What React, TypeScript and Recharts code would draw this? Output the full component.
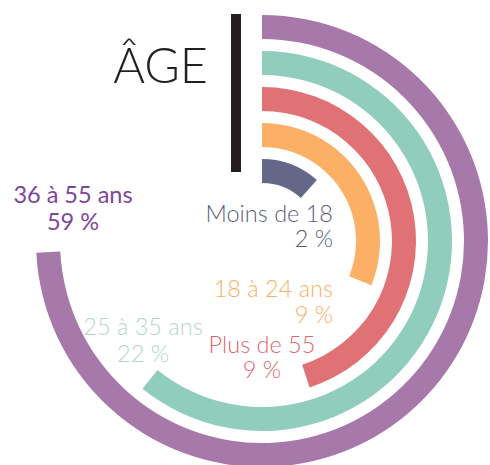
import { PolarAngleAxis, PolarRadiusAxis, RadialBar, RadialBarChart, Cell } from 'recharts';

// inner ring first
const groups = ['Moins de 18', '18 à 24 ans', 'Plus de 55', '25 à 35 ans', '36 à 55 ans'];
const shares = ['2 %', '9 %', '9 %', '22 %', '59 %'];
// sweep of each ring in degrees, as drawn in the infographic
const sweeps = [42, 112, 162, 219, 267];
const ringColors = ['#646788', '#fbb066', '#e07175', '#91cdbc', '#a779aa'];
const textColors = ['#5d6080', '#f7b065', '#e0666f', '#b3d8c9', '#7e469b'];

const data = groups.map((name, i) => ({ name, sweep: sweeps[i] }));

const font = 'Lato, "Open Sans", sans-serif';
const fs = 23.5;

export default function App() {
  return (
    <div style={{ position: 'absolute', left: 0, top: 0, width: 490, height: 465 }}>
      <RadialBarChart
        width={490}
        height={465}
        cx={262}
        cy={241}
        innerRadius={52}
        outerRadius={232}
        startAngle={90}
        endAngle={-270}
        barSize={24}
        data={data}
        margin={{ top: 0, right: 0, bottom: 0, left: 0 }}
      >
        <PolarAngleAxis type="number" domain={[0, 360]} tick={false} axisLine={false} />
        <PolarRadiusAxis type="category" dataKey="name" tick={false} axisLine={false} />
        <RadialBar dataKey="sweep" isAnimationActive={false}>
          {data.map((entry, index) => (
            <Cell key={`ring-${index}`} fill={ringColors[index]} />
          ))}
        </RadialBar>
      </RadialBarChart>
      <svg
        width={490}
        height={465}
        style={{ position: 'absolute', left: 0, top: 0, pointerEvents: 'none' }}
        fontFamily={font}
      >
        <text x={208} y={83} textAnchor="end" fontSize={48.5} fontWeight={300} fill="#231f20">
          ÂGE
        </text>
        <rect x={231} y={14} width={10} height={158} fill="#231f20" />

        <text x={333} y={222} textAnchor="end" fontSize={fs} fontWeight={300} fill={textColors[0]}>
          {groups[0]}
        </text>
        <text x={333} y={247} textAnchor="end" fontSize={fs} fontWeight={300} fill={textColors[0]}>
          {shares[0]}
        </text>

        <text x={333} y={297} textAnchor="end" fontSize={fs} fontWeight={300} fill={textColors[1]}>
          {groups[1]}
        </text>
        <text x={333} y={323} textAnchor="end" fontSize={fs} fontWeight={300} fill={textColors[1]}>
          {shares[1]}
        </text>

        <text x={262} y={353} textAnchor="middle" fontSize={fs} fontWeight={300} fill={textColors[2]}>
          {groups[2]}
        </text>
        <text x={262} y={378} textAnchor="middle" fontSize={fs} fontWeight={300} fill={textColors[2]}>
          {shares[2]}
        </text>

        <text x={143} y={335} textAnchor="middle" fontSize={fs} fontWeight={300} fill={textColors[3]}>
          {groups[3]}
        </text>
        <text x={143} y={362} textAnchor="middle" fontSize={fs} fontWeight={300} fill={textColors[3]}>
          {shares[3]}
        </text>

        <text x={73} y={203} textAnchor="middle" fontSize={fs} fill={textColors[4]}>
          {groups[4]}
        </text>
        <text x={73} y={230} textAnchor="middle" fontSize={fs} fill={textColors[4]}>
          {shares[4]}
        </text>
      </svg>
    </div>
  );
}
